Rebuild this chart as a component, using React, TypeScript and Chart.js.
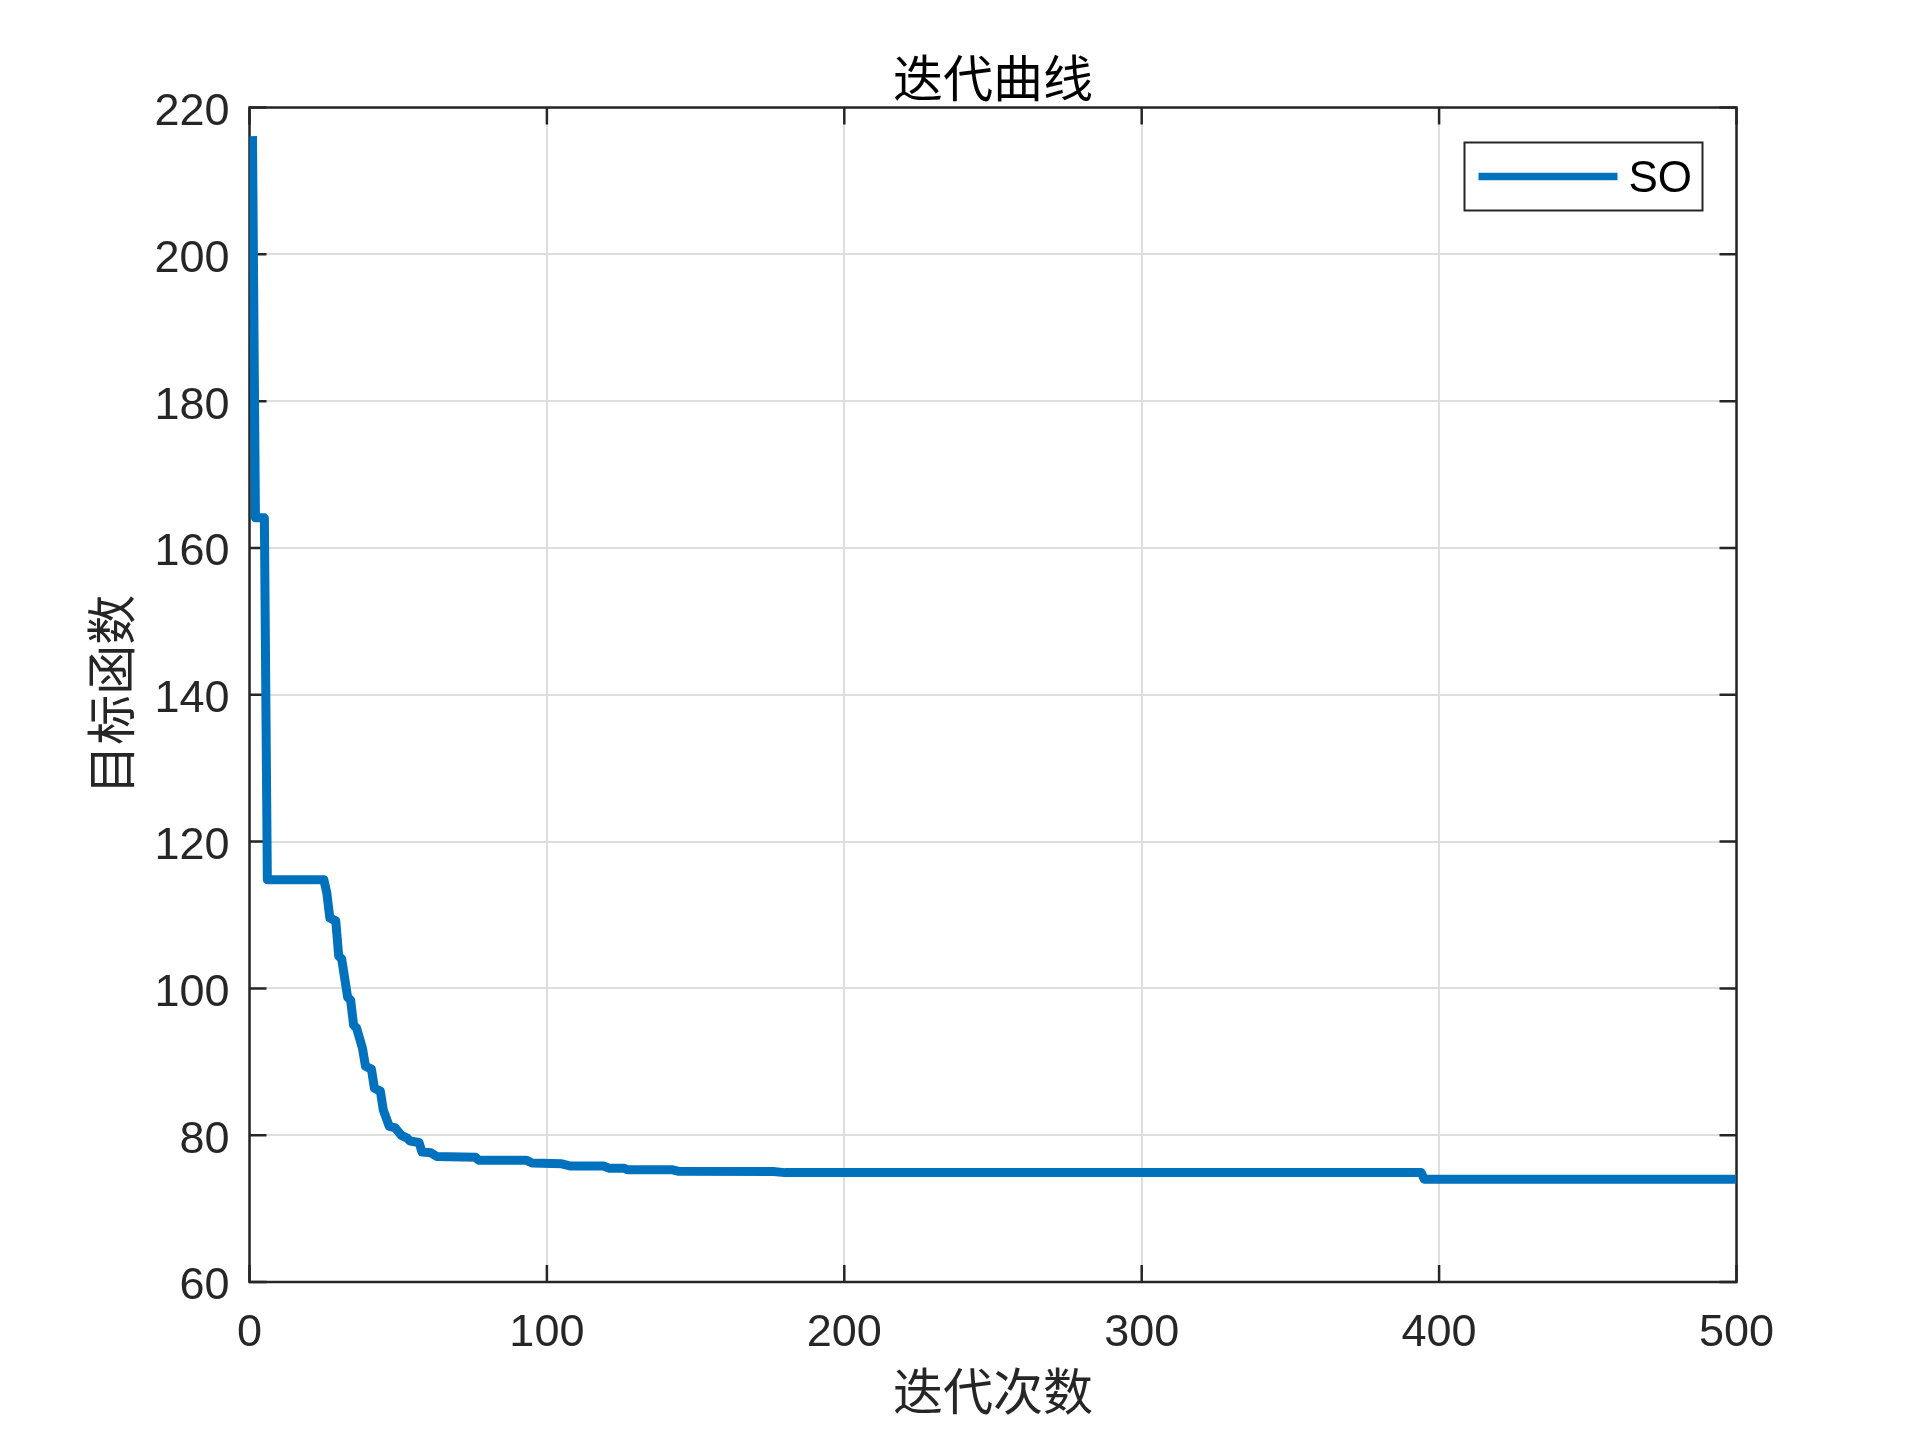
import React, { useEffect, useRef } from "react";
import { Chart, registerables } from "chart.js";

Chart.register(...registerables);

// Iteration numbers where the best objective value changes (step points)
const iterations = [
  1, 2, 5, 6, 25, 26, 27, 29, 30, 31, 33, 34, 35, 36, 38, 39, 41, 42, 44, 45,
  46, 47, 49, 50, 51, 53, 54, 57, 58, 61, 63, 76, 77, 93, 95, 105, 108, 119,
  121, 126, 127, 142, 144, 176, 180, 394, 395, 500,
];
// Objective value (目标函数) at those iterations
const objectiveValues = [
  216.1, 164.1, 164.1, 114.8, 114.8, 113.0, 109.6, 109.2, 104.4, 104.0, 98.8,
  98.4, 95.0, 94.6, 91.8, 89.4, 89.0, 86.4, 86.0, 83.4, 82.3, 81.2, 81.0, 80.5,
  80.0, 79.6, 79.2, 79.0, 77.7, 77.6, 77.1, 77.0, 76.6, 76.6, 76.2, 76.1, 75.8,
  75.8, 75.5, 75.5, 75.3, 75.3, 75.1, 75.05, 74.9, 74.9, 74.0, 74.0,
];

const seriesLabel = "SO";
const chartTitle = "迭代曲线";
const xAxisTitle = "迭代次数";
const yAxisTitle = "目标函数";
const xTicks = [0, 100, 200, 300, 400, 500];
const yTicks = [60, 80, 100, 120, 140, 160, 180, 200, 220];

const LATIN = "'Liberation Sans', Arial, Helvetica, sans-serif";
const CJK = "'Noto Sans CJK SC', 'Noto Sans', sans-serif";
const AXIS_COLOR = "#262626";
const LINE_COLOR = "#0072BD";

const boxPlugin = {
  id: "matlabBox",
  beforeDatasetsDraw(chart: any) {
    const { ctx, chartArea } = chart;
    const { left, right, top, bottom } = chartArea;
    const xs = chart.scales.x;
    const ys = chart.scales.y;
    const tl = 17;
    ctx.save();
    ctx.strokeStyle = AXIS_COLOR;
    ctx.lineWidth = 2.5;
    ctx.beginPath();
    for (const v of xTicks) {
      const px = xs.getPixelForValue(v);
      ctx.moveTo(px, bottom);
      ctx.lineTo(px, bottom - tl);
      ctx.moveTo(px, top);
      ctx.lineTo(px, top + tl);
    }
    for (const v of yTicks) {
      const py = ys.getPixelForValue(v);
      ctx.moveTo(left, py);
      ctx.lineTo(left + tl, py);
      ctx.moveTo(right, py);
      ctx.lineTo(right - tl, py);
    }
    ctx.stroke();
    ctx.strokeRect(left, top, right - left, bottom - top);
    ctx.restore();
  },
  afterDraw(chart: any) {
    const { ctx, chartArea } = chart;
    const ds = chart.data.datasets[0];
    const w = 238;
    const h = 68;
    const bx = chartArea.right - 34 - w;
    const by = chartArea.top + 35;
    ctx.save();
    ctx.fillStyle = "#ffffff";
    ctx.fillRect(bx, by, w, h);
    ctx.strokeStyle = AXIS_COLOR;
    ctx.lineWidth = 2;
    ctx.strokeRect(bx, by, w, h);
    const cy = by + h / 2;
    ctx.strokeStyle = ds.borderColor;
    ctx.lineWidth = 7.5;
    ctx.beginPath();
    ctx.moveTo(bx + 14, cy);
    ctx.lineTo(bx + 153, cy);
    ctx.stroke();
    ctx.fillStyle = "#000000";
    ctx.font = `44px ${LATIN}`;
    ctx.textBaseline = "middle";
    ctx.textAlign = "left";
    ctx.fillText(ds.label, bx + 164, cy + 3);
    ctx.restore();
  },
};

export default function App() {
  const ref = useRef<HTMLCanvasElement | null>(null);

  useEffect(() => {
    if (!ref.current) return;
    const points = iterations.map((it, i) => ({ x: it, y: objectiveValues[i] }));
    const chart = new Chart(ref.current, {
      type: "line",
      data: {
        datasets: [
          {
            label: seriesLabel,
            data: points,
            borderColor: LINE_COLOR,
            backgroundColor: LINE_COLOR,
            borderWidth: 9,
            pointRadius: 0,
            tension: 0,
            borderJoinStyle: "round",
            borderCapStyle: "butt",
            fill: false,
          },
        ],
      },
      plugins: [boxPlugin],
      options: {
        animation: false,
        responsive: false,
        devicePixelRatio: 1,
        layout: { padding: { left: 0, right: 183.5, top: 0, bottom: 0 } },
        plugins: {
          legend: { display: false },
          tooltip: { enabled: false },
          title: { display: false },
        },
        scales: {
          xTop: {
            type: "linear",
            position: "top",
            min: 0,
            max: 500,
            afterFit: (s: any) => {
              s.height = 107.5;
            },
            grid: { display: false, drawTicks: false },
            border: { display: false },
            ticks: { display: false },
            title: {
              display: true,
              text: chartTitle,
              color: "#000000",
              font: { family: CJK, size: 50, weight: "normal", lineHeight: 1.2 },
              padding: { top: 48, bottom: 0 },
            },
          },
          x: {
            type: "linear",
            position: "bottom",
            min: 0,
            max: 500,
            afterBuildTicks: (s: any) => {
              s.ticks = xTicks.map((v) => ({ value: v }));
            },
            afterFit: (s: any) => {
              s.height = 158;
            },
            grid: { color: "#dedede", lineWidth: 2, drawTicks: false },
            border: { display: false },
            ticks: {
              color: AXIS_COLOR,
              font: { family: LATIN, size: 45 },
              padding: 25,
              maxRotation: 0,
            },
            title: {
              display: true,
              text: xAxisTitle,
              color: AXIS_COLOR,
              font: { family: CJK, size: 50, lineHeight: 1.2 },
              padding: { top: 0, bottom: 19 },
            },
          },
          y: {
            type: "linear",
            min: 60,
            max: 220,
            afterBuildTicks: (s: any) => {
              s.ticks = yTicks.map((v) => ({ value: v }));
            },
            afterFit: (s: any) => {
              s.width = 249.5;
            },
            grid: { color: "#dedede", lineWidth: 2, drawTicks: false },
            border: { display: false },
            ticks: {
              color: AXIS_COLOR,
              font: { family: LATIN, size: 45 },
              padding: 20,
              labelOffset: 5,
            },
            title: {
              display: true,
              text: yAxisTitle,
              color: AXIS_COLOR,
              font: { family: CJK, size: 50, lineHeight: 1.2 },
              padding: { top: 81, bottom: 0 },
            },
          },
        },
      },
    } as any);
    return () => chart.destroy();
  }, []);

  return (
    <div style={{ position: "absolute", left: 0, top: 0, width: 1920, height: 1440, background: "#ffffff" }}>
      <canvas ref={ref} width={1920} height={1440} style={{ display: "block" }} />
    </div>
  );
}
